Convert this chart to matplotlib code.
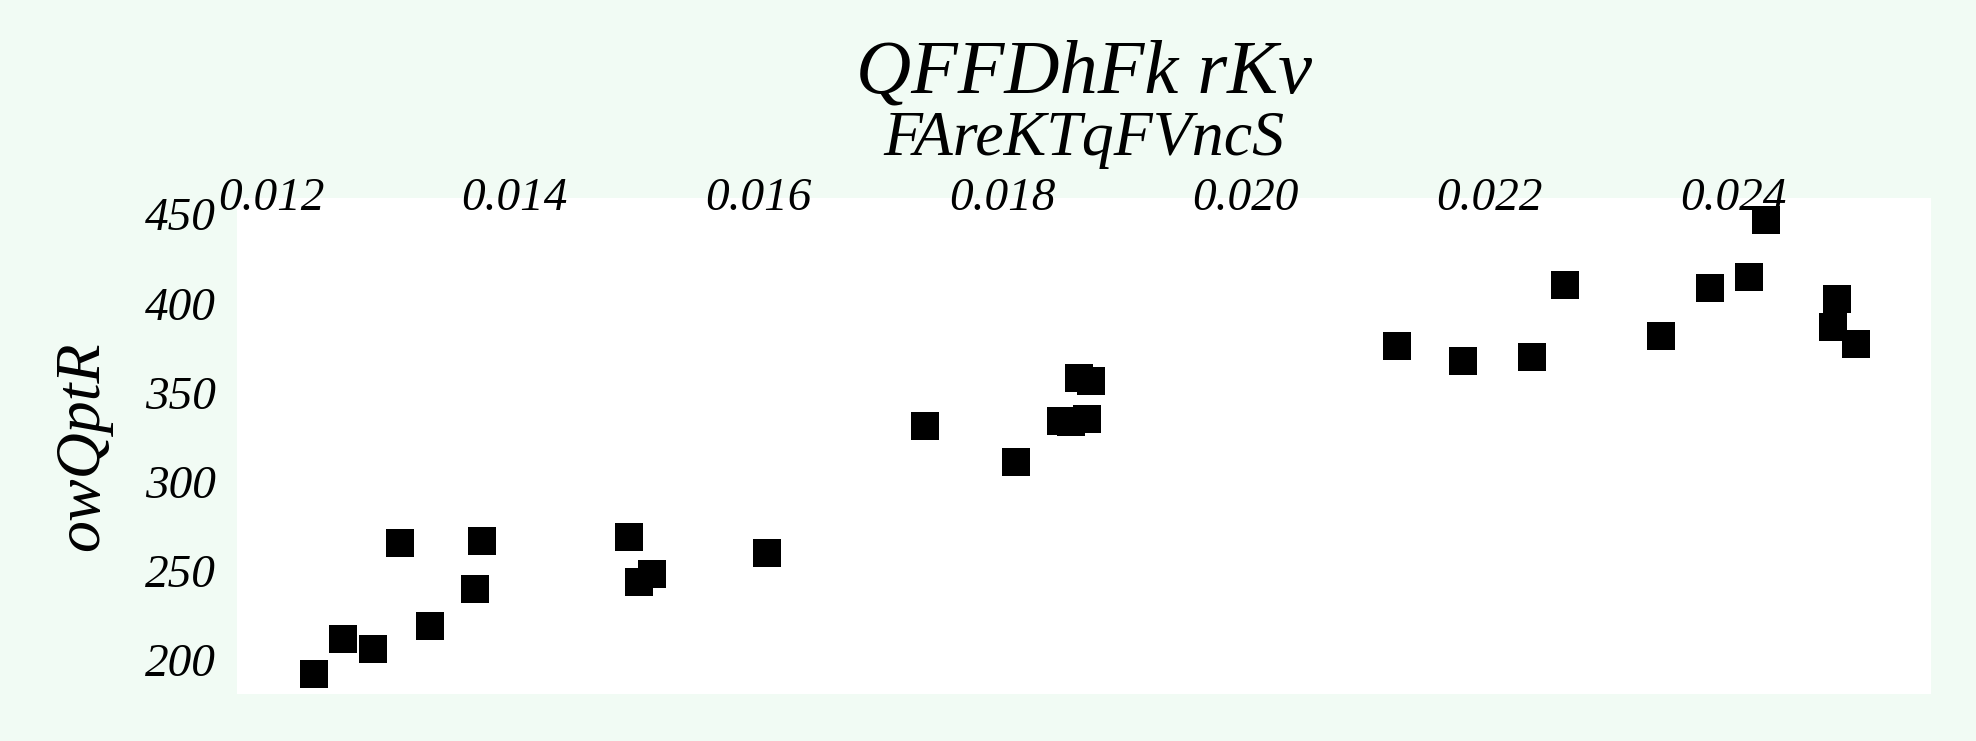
import numpy as np
import matplotlib
matplotlib.use("Agg")
import matplotlib.pyplot as plt

# data
x = [0.012352, 0.01259, 0.01284, 0.01306, 0.01330, 0.01367, 0.01373,
     0.01494, 0.01502, 0.01513, 0.01607, 0.01737, 0.01811,
     0.018486, 0.018568, 0.018634, 0.018700, 0.018732,
     0.02124, 0.02178, 0.02235, 0.02262, 0.02341, 0.02381, 0.02413,
     0.02427, 0.024816, 0.024849, 0.025005]
y = [192.3, 212, 206, 265.5, 219, 240, 267,
     269, 243.7, 248, 260, 331, 311,
     333.8, 333.2, 358.3, 334.9, 356.7,
     376, 367.6, 370, 410, 381.7, 408.5, 415,
     446.5, 386.9, 402.6, 377.4]
xticks = [0.012, 0.014, 0.016, 0.018, 0.020, 0.022, 0.024]
yticks = [200, 250, 300, 350, 400, 450]
title1 = "QFFDhFk rKv"
title2 = "FAreKTqFVncS"
ylab = "owQptR"

font = "Liberation Serif"
bg = "#f1fbf4"

fig = plt.figure(figsize=(19.76, 7.41), dpi=100, facecolor=bg)
ax = fig.add_axes([237/1976, 1-694/741, (1931-237)/1976, (694-198)/741])
ax.set_facecolor("white")

ax.scatter(x, y, marker="s", s=380, color="black", linewidths=0, zorder=3)

ax.set_xlim(0.01172, 0.025624)
ax.set_ylim(181, 459)
ax.set_xticks(xticks)
ax.set_xticklabels(["%.3f" % v for v in xticks])
ax.set_yticks(yticks)
ax.set_yticklabels([str(v) for v in yticks])
ax.xaxis.tick_top()
ax.tick_params(axis="x", length=0, pad=-16)
ax.tick_params(axis="y", length=0, pad=15)
for lab in ax.get_xticklabels() + ax.get_yticklabels():
    lab.set_fontfamily(font)
    lab.set_fontstyle("italic")
    lab.set_fontsize(34)
for sp in ax.spines.values():
    sp.set_visible(False)

ax.set_ylabel(ylab, fontsize=46, fontfamily=font, fontstyle="italic", labelpad=24)
ax.text(0.5, 1.212, title1, transform=ax.transAxes, ha="center", va="baseline",
        fontsize=55, fontfamily=font, fontstyle="italic")
ax.text(0.5, 1.087, title2, transform=ax.transAxes, ha="center", va="baseline",
        fontsize=46, fontfamily=font, fontstyle="italic")

fig.savefig("out.png", dpi=100, facecolor=bg)
